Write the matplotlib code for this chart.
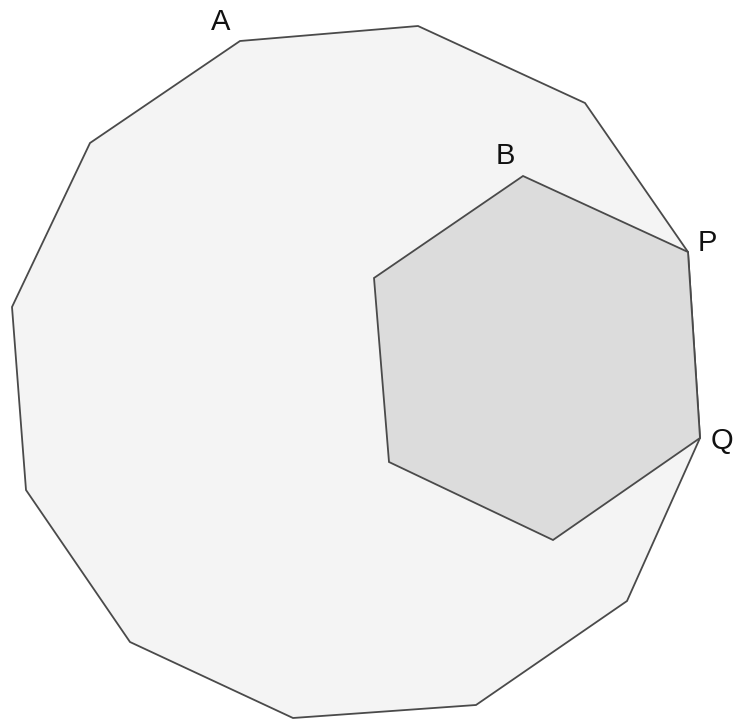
import matplotlib
matplotlib.use("Agg")
import matplotlib.pyplot as plt
from matplotlib.patches import Polygon

# Vertex coordinates (pixel space, y down)
dodecagon_x = [240, 418, 585, 688, 700, 627, 476, 293, 130, 26, 12, 90]
dodecagon_y = [41, 26, 103, 252, 438, 601, 705, 718, 642, 490, 307, 143]
hexagon_x = [523, 688, 700, 553, 389, 374]
hexagon_y = [176, 252, 438, 540, 462, 278]

labels = ["A", "B", "P", "Q"]
label_x = [221, 505, 707, 722]
label_y = [22, 156, 243, 441]

W, H = 737, 722
fig = plt.figure(figsize=(W / 100, H / 100), dpi=100)
ax = fig.add_axes([0, 0, 1, 1])
ax.set_xlim(0, W)
ax.set_ylim(H, 0)
ax.axis("off")

ax.add_patch(Polygon(list(zip(dodecagon_x, dodecagon_y)), closed=True,
                     facecolor="#f4f4f4", edgecolor="#4a4a4a", linewidth=1.3))
ax.add_patch(Polygon(list(zip(hexagon_x, hexagon_y)), closed=True,
                     facecolor="#dcdcdc", edgecolor="#4a4a4a", linewidth=1.3))

for t, x, y in zip(labels, label_x, label_y):
    ax.text(x, y, t, fontsize=21, family="Liberation Sans", color="#111111",
            ha="center", va="center")

fig.savefig("out.png", dpi=100)
